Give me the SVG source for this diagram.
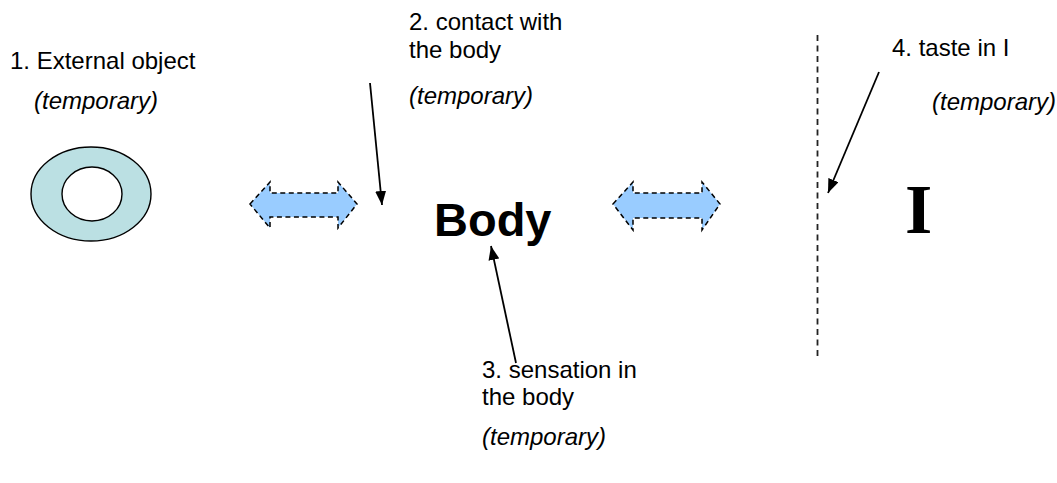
<svg xmlns="http://www.w3.org/2000/svg" width="1057" height="483" viewBox="0 0 1057 483">
  <defs>
    <marker id="arrowhead" viewBox="0 0 14 11" refX="14" refY="5.5" markerWidth="14" markerHeight="11" markerUnits="userSpaceOnUse" orient="auto">
      <path d="M0,0 L14,5.5 L0,11 Z" fill="#000"/>
    </marker>
  </defs>
  <style>
    .label { font-family: "Liberation Sans", Arial, sans-serif; font-size: 24px; fill: #000; }
    .note { font-family: "Liberation Sans", Arial, sans-serif; font-size: 24px; font-style: italic; fill: #000; }
    .big { font-family: "Liberation Sans", Arial, sans-serif; font-size: 47px; font-weight: bold; fill: #000; }
    .self { font-family: "Liberation Serif", "Times New Roman", serif; font-size: 70px; font-weight: bold; fill: #000; }
    .dbl { fill: #99CCFF; stroke: #000; stroke-width: 1.5; stroke-dasharray: 5 3.5; }
    .pointer { stroke: #000; stroke-width: 1.8; fill: none; marker-end: url(#arrowhead); }
  </style>

  <rect width="1057" height="483" fill="#fff"/>

  <!-- 1. external object: ring -->
  <g id="external-object">
    <text class="label" x="10" y="69">1. External object</text>
    <text class="note" x="34" y="109">(temporary)</text>
    <path d="M31,194 a60,47 0 1,0 120,0 a60,47 0 1,0 -120,0 Z M62,194 a30,27 0 1,1 60,0 a30,27 0 1,1 -60,0 Z" fill="#BBE0E3" fill-rule="evenodd" stroke="#000" stroke-width="1.4"/>
  </g>

  <!-- 2. contact with the body -->
  <g id="contact">
    <text class="label" x="409" y="30">2. contact with</text>
    <text class="label" x="409" y="58">the body</text>
    <text class="note" x="409" y="104">(temporary)</text>
  </g>

  <!-- body -->
  <g id="body">
    <text class="big" x="434" y="236">Body</text>
  </g>

  <!-- 3. sensation in the body -->
  <g id="sensation">
    <text class="label" x="482" y="378">3. sensation in</text>
    <text class="label" x="482" y="405">the body</text>
    <text class="note" x="482" y="445">(temporary)</text>
  </g>

  <!-- 4. taste in I -->
  <g id="taste">
    <text class="label" x="892" y="56">4. taste in I</text>
    <text class="note" x="932" y="110">(temporary)</text>
  </g>

  <!-- I -->
  <g id="self">
    <text class="self" x="905" y="233">I</text>
  </g>

  <!-- dashed boundary -->
  <g id="boundary">
    <line x1="817.5" y1="35" x2="817.5" y2="357" stroke="#222" stroke-width="1.8" stroke-dasharray="6 4.5"/>
  </g>

  <g id="connectors">
    <!-- two-way block arrows -->
    <path class="dbl" d="M250,204 L270,182 L270,193 L338,193 L338,182 L357,204 L338,228 L338,217 L270,217 L270,228 Z"/>
    <path class="dbl" d="M613,204 L633,182 L633,193 L702,193 L702,182 L720,204 L702,230 L702,218 L633,218 L633,230 Z"/>
    <!-- pointers -->
    <line class="pointer" x1="370" y1="83" x2="382" y2="205"/>
    <line class="pointer" x1="516" y1="363" x2="491" y2="246"/>
    <line class="pointer" x1="879" y1="72" x2="828" y2="193"/>
  </g>
</svg>
